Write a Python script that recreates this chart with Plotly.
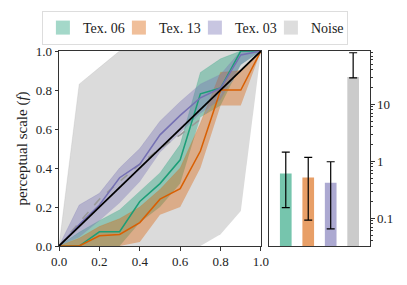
import plotly.graph_objects as go

x = [0.0, 0.1, 0.2, 0.3, 0.4, 0.5, 0.6, 0.7, 0.8, 0.9, 1.0]

tex06 = [0.0, 0.0, 0.073, 0.073, 0.228, 0.32, 0.442, 0.78, 0.81, 1.0, 1.0]
tex06_hi = [0.0, 0.07, 0.13, 0.185, 0.28, 0.375, 0.52, 0.89, 0.96, 1.0, 1.0]
tex06_lo = [0.0, 0.0, 0.0, 0.0, 0.12, 0.2, 0.32, 0.66, 0.72, 0.93, 1.0]

tex13 = [0.0, 0.0, 0.052, 0.059, 0.12, 0.24, 0.294, 0.487, 0.80, 0.80, 1.0]
tex13_hi = [0.0, 0.04, 0.1, 0.14, 0.2, 0.29, 0.4, 0.63, 0.89, 0.9, 1.0]
tex13_lo = [0.0, 0.0, 0.0, 0.0, 0.02, 0.16, 0.2, 0.4, 0.72, 0.72, 1.0]

tex03 = [0.0, 0.11, 0.21, 0.35, 0.42, 0.57, 0.67, 0.76, 0.81, 0.98, 1.0]
tex03_hi = [0.0, 0.21, 0.27, 0.4, 0.5, 0.64, 0.74, 0.83, 0.88, 1.0, 1.0]
tex03_lo = [0.0, 0.045, 0.13, 0.22, 0.33, 0.48, 0.58, 0.68, 0.75, 0.93, 1.0]

noise = [0.0, 0.12, 0.24, 0.33, 0.42, 0.5, 0.57, 0.65, 0.78, 0.9, 1.0]
noise_hi = [0.0, 0.83, 0.915, 1.0, 1.0, 1.0, 1.0, 1.0, 1.0, 1.0, 1.0]
noise_lo = [0.0, 0.0, 0.0, 0.0, 0.0, 0.0, 0.0, 0.0, 0.06, 0.18, 1.0]

names = ["Tex. 06", "Tex. 13", "Tex. 03", "Noise"]
bar_vals = [0.61, 0.52, 0.42, 30.0]
bar_err_hi = [1.45, 1.17, 0.98, 80.0]
bar_err_lo = [0.154, 0.093, 0.065, 29.0]

log_major = [0.1, 1, 10]
log_major_text = ["0.1", "1", "10"]
log_minor = [m * d for d in (0.01, 0.1, 1, 10) for m in range(2, 10)]

colors = ["27,158,119", "217,95,2", "117,112,179", "170,170,170"]

fig = go.Figure()

def band(lo, hi, rgb, alpha):
    fig.add_trace(go.Scatter(x=x, y=lo, mode="lines", line=dict(width=0), showlegend=False,
                             hoverinfo="skip", xaxis="x", yaxis="y"))
    fig.add_trace(go.Scatter(x=x, y=hi, mode="lines", fill="tonexty",
                             fillcolor=f"rgba({rgb},{alpha})", line=dict(width=0.6, color=f"rgba({rgb},0.35)"),
                             showlegend=False, hoverinfo="skip", xaxis="x", yaxis="y"))

band(noise_lo, noise_hi, "160,160,160", 0.38)
band(tex06_lo, tex06_hi, colors[0], 0.38)
band(tex13_lo, tex13_hi, colors[1], 0.38)
band(tex03_lo, tex03_hi, colors[2], 0.38)

fig.add_trace(go.Scatter(x=x, y=noise, mode="lines", line=dict(color="#999999", width=1.6, dash="dash"),
                         showlegend=False, xaxis="x", yaxis="y"))
fig.add_trace(go.Scatter(x=x, y=tex06, mode="lines", line=dict(color="rgb(27,158,119)", width=1.5),
                         showlegend=False, xaxis="x", yaxis="y"))
fig.add_trace(go.Scatter(x=x, y=tex13, mode="lines", line=dict(color="rgb(217,95,2)", width=1.5),
                         showlegend=False, xaxis="x", yaxis="y"))
fig.add_trace(go.Scatter(x=x, y=tex03, mode="lines", line=dict(color="rgb(117,112,179)", width=1.5),
                         showlegend=False, xaxis="x", yaxis="y"))
fig.add_trace(go.Scatter(x=[0, 1], y=[0, 1], mode="lines", line=dict(color="black", width=1.7),
                         showlegend=False, xaxis="x", yaxis="y"))

bar_cols = ["rgba(27,158,119,0.6)", "rgba(217,95,2,0.6)", "rgba(117,112,179,0.6)", "rgba(190,190,190,0.8)"]
fig.add_trace(go.Bar(
    x=list(range(4)), y=bar_vals, width=0.52, marker=dict(color=bar_cols, line=dict(width=0)),
    error_y=dict(type="data", symmetric=False,
                 array=[h - v for h, v in zip(bar_err_hi, bar_vals)],
                 arrayminus=[v - l for l, v in zip(bar_err_lo, bar_vals)],
                 color="black", thickness=1.2, width=4),
    showlegend=False, xaxis="x2", yaxis="y2"))

leg_cols = ["rgba(27,158,119,0.4)", "rgba(217,95,2,0.4)", "rgba(117,112,179,0.4)", "rgba(170,170,170,0.4)"]
for n, c in zip(names, leg_cols):
    fig.add_trace(go.Scatter(x=[None], y=[None], mode="markers", name=n,
                             marker=dict(symbol="square", size=14, color=c),
                             xaxis="x", yaxis="y"))

font = "Liberation Serif"
axcol = "#333333"
fig.update_layout(
    width=407, height=285, margin=dict(l=51, r=45, t=43, b=47, autoexpand=False),
    plot_bgcolor="white", paper_bgcolor="white",
    font=dict(family=font, size=13, color="#222"),
    showlegend=True,
    legend=dict(orientation="h", x=-0.055, y=1.118, xanchor="left", yanchor="middle",
                traceorder="normal", entrywidth=31, entrywidthmode="pixels",
                bordercolor="#dddddd", borderwidth=1, font=dict(size=14, family=font),
                itemsizing="trace", tracegroupgap=0),
    xaxis=dict(domain=[0, 0.6495], range=[0, 1], tickvals=[0, 0.2, 0.4, 0.6, 0.8, 1.0],
               tickformat=".1f", ticks="outside", ticklen=3.5, tickcolor=axcol, automargin=False,
               showline=True, linecolor=axcol, mirror=True, showgrid=False, zeroline=False,
               tickfont=dict(size=13)),
    yaxis=dict(domain=[0, 1], range=[0, 1], tickvals=[0, 0.2, 0.4, 0.6, 0.8, 1.0],
               tickformat=".1f", ticks="outside", ticklen=3.5, tickcolor=axcol, automargin=False,
               showline=True, linecolor=axcol, mirror=True, showgrid=False, zeroline=False,
               title=dict(text="perceptual scale (<i>f</i>)", font=dict(size=15), standoff=4),
               tickfont=dict(size=13)),
    xaxis2=dict(domain=[0.675, 1], range=[-0.75, 3.75], showticklabels=False, ticks="",
                automargin=False,
                showline=True, linecolor=axcol, mirror=True, showgrid=False, zeroline=False),
    yaxis2=dict(domain=[0, 1], type="log", range=[-1.487, 1.934], anchor="x2", side="right",
                tickmode="array", tickvals=log_major, ticktext=log_major_text,
                ticks="outside", ticklen=3.5, automargin=False,
                tickcolor=axcol, showline=True, linecolor=axcol, mirror=True, showgrid=False,
                minor=dict(tickmode="array", tickvals=log_minor, ticks="outside", ticklen=2,
                           tickcolor=axcol, showgrid=False),
                tickfont=dict(size=13)),
)

fig.write_html("out.html")
